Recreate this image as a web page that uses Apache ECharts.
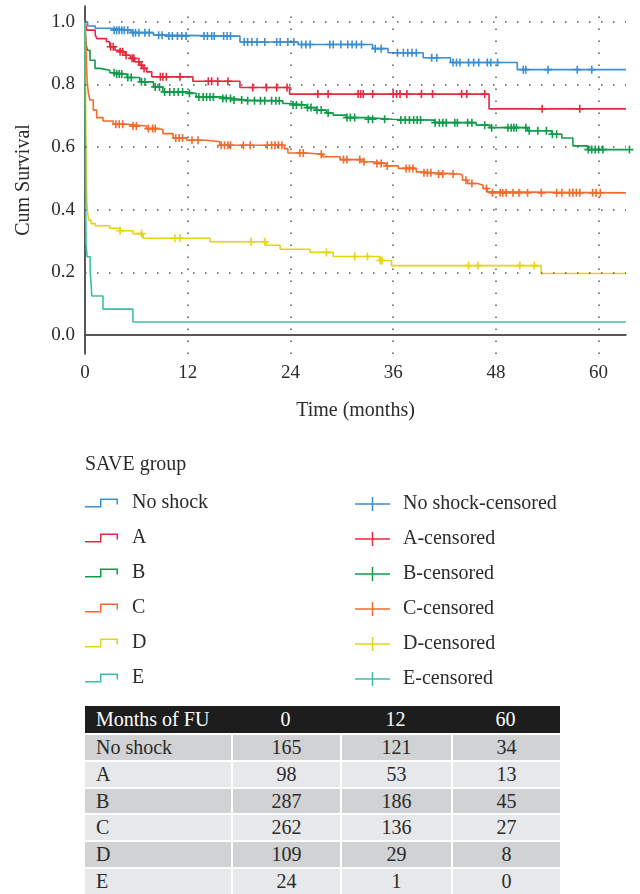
<!DOCTYPE html>
<html>
<head>
<meta charset="utf-8">
<script src="https://cdn.jsdelivr.net/npm/echarts@6/dist/echarts.min.js"></script>
<style>
  html, body { margin: 0; padding: 0; background: #fff; }
  #chart { position: absolute; left: 0; top: 0; width: 640px; height: 700px; }
  #risk {
    position: absolute; left: 85px; top: 706px;
    border-collapse: separate; border-spacing: 0; table-layout: fixed;
    font-family: 'Liberation Serif', 'DejaVu Serif', serif; font-size: 20px; color: #2b2b2b;
  }
  #risk td { padding: 0; text-align: center; white-space: nowrap; box-sizing: border-box; }
  #risk td:first-child { text-align: left; padding-left: 11px; }
  #risk tr.head td { background: #1d1d1d; color: #fff; height: 27px; line-height: 27px; }
  #risk tr.body td { height: 26.8px; line-height: 24.8px; border-top: 2px solid #fff; }
  #risk tr.body td + td { border-left: 2px solid #fff; }
  #risk tr.dark td { background: #d1d2d4; }
  #risk tr.light td { background: #e7e8e9; }
</style>
</head>
<body>
<div id="chart"></div>
<table id="risk">
  <colgroup><col style="width:146px"><col style="width:109px"><col style="width:111px"><col style="width:109px"></colgroup>
  <tbody id="riskBody"></tbody>
</table>
<script>
// groups and colours
const groups = ['No shock', 'A', 'B', 'C', 'D', 'E'];
const colors = ['#3a8fd2', '#e8283c', '#109b4a', '#f26a2c', '#e3d512', '#3bbfa8'];

// Kaplan-Meier steps: [month, survival after that month]
const noShockSteps = [[0, 1], [0.3, 0.986], [1.2, 0.979], [2.9, 0.973], [5.4, 0.965], [8.0, 0.957],
  [9.1, 0.954], [18.1, 0.935], [24.9, 0.927], [33.6, 0.914], [35.4, 0.901], [39.5, 0.885],
  [42.7, 0.870], [50.5, 0.847], [63.2, 0.847]];
const aSteps = [[0, 1], [0.2, 0.973], [1.2, 0.957], [1.4, 0.946], [2.5, 0.936], [2.9, 0.920],
  [3.5, 0.909], [4.1, 0.904], [4.7, 0.893], [5.3, 0.883], [5.8, 0.872], [6.4, 0.861], [6.8, 0.851],
  [7.2, 0.840], [7.8, 0.824], [12.6, 0.810], [18.1, 0.790], [23.9, 0.769], [47.2, 0.722], [63.2, 0.722]];
const bSteps = [[0, 1], [0.05, 0.96], [0.12, 0.93], [0.27, 0.909], [0.58, 0.877], [1.17, 0.851],
  [1.75, 0.845], [2.9, 0.837], [3.7, 0.833], [4.9, 0.822], [6.4, 0.808], [8.0, 0.792], [9.1, 0.776],
  [11.9, 0.771], [13.0, 0.760], [15.75, 0.755], [17.3, 0.750], [19.0, 0.748], [23.1, 0.739],
  [24.1, 0.734], [25.9, 0.726], [27.0, 0.718], [28.2, 0.709], [29.0, 0.702], [30.5, 0.694],
  [32.9, 0.689], [35.9, 0.686], [40.8, 0.678], [45.7, 0.670], [47.3, 0.662], [51.7, 0.652],
  [54.5, 0.641], [55.7, 0.629], [57.0, 0.604], [58.7, 0.592], [63.2, 0.592]];
const cSteps = [[0, 1], [0.08, 0.95], [0.15, 0.88], [0.25, 0.81], [0.4, 0.77], [0.58, 0.750],
  [0.97, 0.718], [1.36, 0.694], [2.1, 0.683], [3.3, 0.673], [4.9, 0.667], [7.2, 0.659], [8.5, 0.656],
  [9.1, 0.643], [10.3, 0.629], [11.9, 0.622], [14.2, 0.617], [15.75, 0.606], [23.3, 0.595],
  [23.7, 0.581], [25.9, 0.577], [27.8, 0.569], [29.8, 0.560], [32.5, 0.553], [33.6, 0.548],
  [35.2, 0.540], [36.6, 0.532], [38.7, 0.521], [39.1, 0.518], [41.0, 0.514], [43.8, 0.510],
  [44.1, 0.494], [44.7, 0.484], [45.9, 0.478], [46.5, 0.468], [47.0, 0.457], [47.5, 0.454], [63.2, 0.454]];
const dSteps = [[0, 1], [0.03, 0.88], [0.06, 0.76], [0.1, 0.64], [0.14, 0.54], [0.18, 0.47],
  [0.22, 0.42], [0.3, 0.39], [0.45, 0.367], [0.7, 0.356], [1.2, 0.349], [2.9, 0.341], [4.1, 0.333],
  [5.6, 0.324], [6.8, 0.309], [14.6, 0.298], [21.2, 0.287], [22.8, 0.274], [26.3, 0.264],
  [29.0, 0.251], [34.4, 0.238], [35.8, 0.222], [53.3, 0.197], [63.2, 0.197]];
const eSteps = [[0, 1], [0.02, 0.79], [0.05, 0.58], [0.08, 0.42], [0.12, 0.29], [0.25, 0.25],
  [0.6, 0.208], [0.7, 0.167], [0.8, 0.125], [2.1, 0.083], [5.6, 0.042], [63.2, 0.042]];

// censoring times (months)
const noShockCensored = [3.4, 3.7, 4.0, 4.3, 4.6, 5.0, 5.6, 5.9, 6.3, 7.0, 7.5, 8.6, 9.0, 9.8, 10.2,
  10.8, 11.3, 11.8, 13.9, 14.3, 14.8, 15.1, 16.2, 16.6, 17.0, 18.6, 19.0, 19.5, 20.1, 21.0, 22.4,
  22.8, 23.7, 24.4, 25.3, 25.8, 26.3, 28.6, 29.0, 29.9, 30.7, 31.2, 31.7, 32.3, 33.9, 34.6, 36.5,
  37.2, 37.7, 38.2, 38.7, 40.5, 41.1, 43.0, 43.4, 43.8, 44.8, 45.4, 46.0, 47.0, 47.4, 48.2, 51.2,
  51.5, 54.1, 57.5, 59.2];
const aCensored = [3.0, 3.3, 4.1, 4.4, 4.8, 5.5, 5.7, 6.3, 6.6, 6.9, 8.8, 9.1, 9.5, 11.1, 14.4, 14.8,
  15.5, 16.7, 19.6, 21.2, 22.4, 23.6, 27.2, 28.4, 31.9, 32.2, 32.5, 33.6, 36.0, 36.4, 36.8, 37.6,
  39.3, 40.6, 44.0, 44.6, 46.7, 53.4, 57.8];
const bCensored = [3.4, 3.7, 4.0, 4.3, 5.0, 5.4, 6.6, 7.0, 8.2, 8.7, 9.3, 9.9, 10.4, 10.9, 11.4,
  12.2, 13.3, 13.8, 14.2, 14.6, 15.0, 16.1, 16.5, 17.0, 17.4, 18.3, 19.0, 19.8, 20.5, 21.0, 21.8,
  22.3, 22.7, 24.3, 24.7, 25.3, 26.0, 26.4, 27.1, 27.6, 28.4, 30.6, 31.0, 31.5, 33.1, 33.6, 35.0,
  36.9, 37.4, 37.9, 38.4, 38.8, 39.2, 40.9, 41.4, 41.8, 42.2, 43.2, 43.5, 44.7, 45.2, 46.7, 47.5,
  49.4, 49.8, 50.1, 50.4, 51.5, 51.9, 52.9, 53.9, 54.6, 55.1, 58.8, 59.2, 59.6, 60.0, 60.5, 63.6];
const cCensored = [3.6, 4.0, 4.4, 5.6, 6.0, 7.4, 7.9, 8.2, 10.6, 11.0, 11.4, 12.5, 13.2, 15.9, 16.3,
  16.7, 17.0, 18.5, 19.3, 21.3, 21.8, 22.2, 22.6, 23.0, 25.1, 25.5, 27.6, 30.2, 30.6, 32.1, 32.6,
  34.1, 34.6, 35.3, 37.5, 37.9, 38.3, 39.6, 40.0, 40.4, 41.3, 41.8, 43.0, 44.5, 45.2, 46.9, 47.6,
  48.5, 48.8, 49.2, 50.0, 50.7, 51.7, 53.3, 55.1, 55.7, 56.6, 57.0, 57.4, 57.8, 59.3, 59.7, 60.2];
const dCensored = [4.1, 6.6, 10.5, 11.1, 19.4, 21.0, 28.2, 31.5, 33.0, 34.5, 34.7, 44.8, 45.9, 50.8, 52.5];
const eCensored = [];

// axis ticks and grid marks
const xTicks = [0, 12, 24, 36, 48, 60];
const xGrid = [12, 24, 36, 48, 60];
const yGrid = [0, 0.2, 0.4, 0.6, 0.8, 1.0];

// numbers at risk
const riskHeader = ['Months of FU', '0', '12', '60'];
const riskAt0 = [165, 98, 287, 262, 109, 24];
const riskAt12 = [121, 53, 186, 136, 29, 1];
const riskAt60 = [34, 13, 45, 27, 8, 0];

const stepSets = [noShockSteps, aSteps, bSteps, cSteps, dSteps, eSteps];
const censorSets = [noShockCensored, aCensored, bCensored, cCensored, dCensored, eCensored];

const font = "'Liberation Serif', 'DejaVu Serif', serif";
const textColor = '#2b2b2b';
const plusMark = 'path://M-1,-5H1V-1H5V1H1V5H-1V1H-5V-1H-1Z';
const stepIcon = 'path://M0,7.5L15,7.5L15,0L33,0L33,6L31.5,6L31.5,1.5L16.5,1.5L16.5,9L0,9Z';
const crossIcon = 'path://M0,6.25H16.75V0H18.25V6.25H35V7.75H18.25V14H16.75V7.75H0Z';

function survivalAt(steps, t) {
  let s = steps[0][1];
  for (const p of steps) {
    if (p[0] <= t) s = p[1]; else break;
  }
  return s;
}

const series = [{
  type: 'line', name: 'grid', data: [], z: 1, silent: true,
  markLine: {
    silent: true, symbol: ['none', 'none'], label: { show: false }, animation: false,
    lineStyle: { type: [1.5, 10.5], color: '#555', width: 1.5 },
    emphasis: { disabled: true },
    data: yGrid.map(v => ({ yAxis: v })).concat(xGrid.map(v => ({ xAxis: v })))
  }
}];
groups.forEach((g, i) => {
  series.push({
    type: 'line', name: g, step: 'end', data: stepSets[i], symbol: 'none', z: 2,
    lineStyle: { color: colors[i], width: 1.6 }, itemStyle: { color: colors[i] }
  });
});
groups.forEach((g, i) => {
  series.push({
    type: 'scatter', name: g + '-censored', clip: false, z: 3,
    data: censorSets[i].map(t => [t, survivalAt(stepSets[i], t)]),
    symbol: plusMark, symbolSize: 8, itemStyle: { color: colors[i], opacity: 1 }
  });
});

const chart = echarts.init(document.getElementById('chart'));
chart.setOption({
  animation: false,
  textStyle: { fontFamily: font },
  title: {
    text: 'SAVE group', left: 85, top: 455, padding: 0,
    textStyle: { fontSize: 20, fontWeight: 'normal', fontFamily: font, color: textColor }
  },
  legend: [{
    orient: 'vertical', left: 85, top: 493, padding: 0, selectedMode: false,
    itemWidth: 35, itemHeight: 9, itemGap: 15, icon: stepIcon,
    itemStyle: { borderWidth: 0, opacity: 1 },
    data: groups,
    textStyle: { fontSize: 20, fontFamily: font, color: textColor, lineHeight: 20, padding: [0, 0, 0, 8] }
  }, {
    orient: 'vertical', left: 355, top: 494, padding: 0, selectedMode: false,
    itemWidth: 35, itemHeight: 14, itemGap: 15, icon: crossIcon,
    itemStyle: { borderWidth: 0, opacity: 1 },
    data: groups.map(g => g + '-censored'),
    textStyle: { fontSize: 20, fontFamily: font, color: textColor, lineHeight: 20, padding: [0, 0, 0, 8] }
  }],
  grid: { left: 85, top: 6, width: 541, height: 348 },
  xAxis: {
    type: 'value', min: 0, max: 63.2, interval: 12,
    name: 'Time (months)', nameLocation: 'middle', nameGap: 47,
    nameTextStyle: { fontSize: 20, fontFamily: font, color: textColor },
    axisLine: { lineStyle: { color: '#222', width: 1.5 } },
    axisTick: { show: false },
    splitLine: { show: false },
    axisLabel: {
      fontSize: 19, fontFamily: font, color: textColor, margin: 10,
      formatter: v => (xTicks.indexOf(Math.round(v * 100) / 100) >= 0 ? String(Math.round(v)) : '')
    }
  },
  yAxis: {
    type: 'value', min: -0.06, max: 1.05, interval: 0.01,
    name: 'Cum Survival', nameLocation: 'middle', nameGap: 51,
    nameTextStyle: { fontSize: 20, fontFamily: font, color: textColor },
    axisLine: { show: true, lineStyle: { color: '#222', width: 1.5 } },
    axisTick: { show: false },
    splitLine: { show: false },
    axisLabel: {
      fontSize: 19, fontFamily: font, color: textColor, margin: 10,
      formatter: v => {
        if (v < -1e-6) return '';
        if (Math.abs(v * 5 - Math.round(v * 5)) > 1e-6) return '';
        return Math.abs(v).toFixed(1);
      }
    }
  },
  series: series
});

// risk table
const body = document.getElementById('riskBody');
const head = document.createElement('tr');
head.className = 'head';
riskHeader.forEach(h => { const td = document.createElement('td'); td.textContent = h; head.appendChild(td); });
body.appendChild(head);
groups.forEach((g, i) => {
  const tr = document.createElement('tr');
  tr.className = 'body ' + (i % 2 === 0 ? 'dark' : 'light');
  [g, riskAt0[i], riskAt12[i], riskAt60[i]].forEach(v => {
    const td = document.createElement('td'); td.textContent = v; tr.appendChild(td);
  });
  body.appendChild(tr);
});
</script>
</body>
</html>
